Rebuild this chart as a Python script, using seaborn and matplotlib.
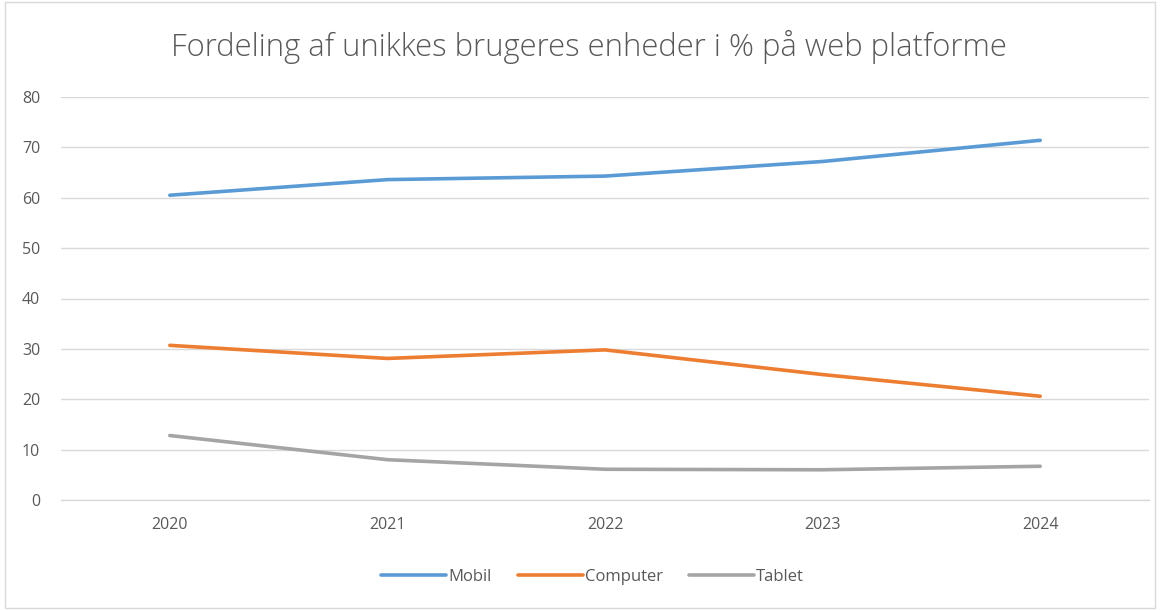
import pandas as pd
import seaborn as sns
import matplotlib.pyplot as plt
from matplotlib.patches import Rectangle

# Data
years = ['2020', '2021', '2022', '2023', '2024']
mobil = [60.5, 63.6, 64.3, 67.2, 71.4]
computer = [30.7, 28.1, 29.8, 24.9, 20.6]
tablet = [12.8, 8.0, 6.1, 6.0, 6.7]

series = ['Mobil', 'Computer', 'Tablet']
colors = ['#5B9BD5', '#ED7D31', '#A5A5A5']

df = pd.DataFrame({'År': years, 'Mobil': mobil, 'Computer': computer, 'Tablet': tablet})
long = df.melt(id_vars='År', var_name='Enhed', value_name='Andel')

sns.set_style('white')
plt.rcParams['font.family'] = ['Open Sans', 'DejaVu Sans']

fig = plt.figure(figsize=(11.6, 6.1), dpi=100)
ax = fig.add_axes([61 / 1160, 1 - 500 / 610, 1088 / 1160, 403 / 610])

sns.lineplot(data=long, x='År', y='Andel', hue='Enhed', hue_order=series,
             palette=colors, linewidth=2.6, ax=ax, sort=False, zorder=3)
for line in ax.get_lines():
    line.set_solid_capstyle('round')

ax.set_xlim(-0.5, 4.5)
ax.set_ylim(0, 80)
ax.set_yticks(range(0, 81, 10))
ax.grid(axis='y', color='#D9D9D9', linewidth=1)
ax.grid(axis='x', visible=False)
ax.axhline(0, color='#D9D9D9', linewidth=1, clip_on=False, zorder=1)
for s in ax.spines.values():
    s.set_visible(False)
ax.tick_params(axis='both', length=0, labelsize=11.5, labelcolor='#595959')
ax.tick_params(axis='y', pad=15)
ax.tick_params(axis='x', pad=12)
ax.set_xlabel('')
ax.set_ylabel('')

fig.suptitle('Fordeling af unikkes brugeres enheder i % på web platforme',
             x=(170 + 1008) / 2 / 1160, y=1 - 47 / 610, va='center', fontsize=22.3,
             color='#595959', fontweight='light')

# legend centred under the plot, as in the reference
handles, labels = ax.get_legend_handles_labels()
ax.legend(handles, labels, loc='center',
          bbox_to_anchor=(((387 + 798) / 2 - 61) / 1088, -(577 - 500) / 403),
          ncol=3, frameon=False, fontsize=12, labelcolor='#595959',
          handlelength=3.9, handletextpad=0.1, columnspacing=1.6)

fig.patches.append(Rectangle((0.004, 0.004), 0.992, 0.992, transform=fig.transFigure,
                             fill=False, edgecolor='#D9D9D9', linewidth=1))

fig.savefig('out.png', dpi=100)
